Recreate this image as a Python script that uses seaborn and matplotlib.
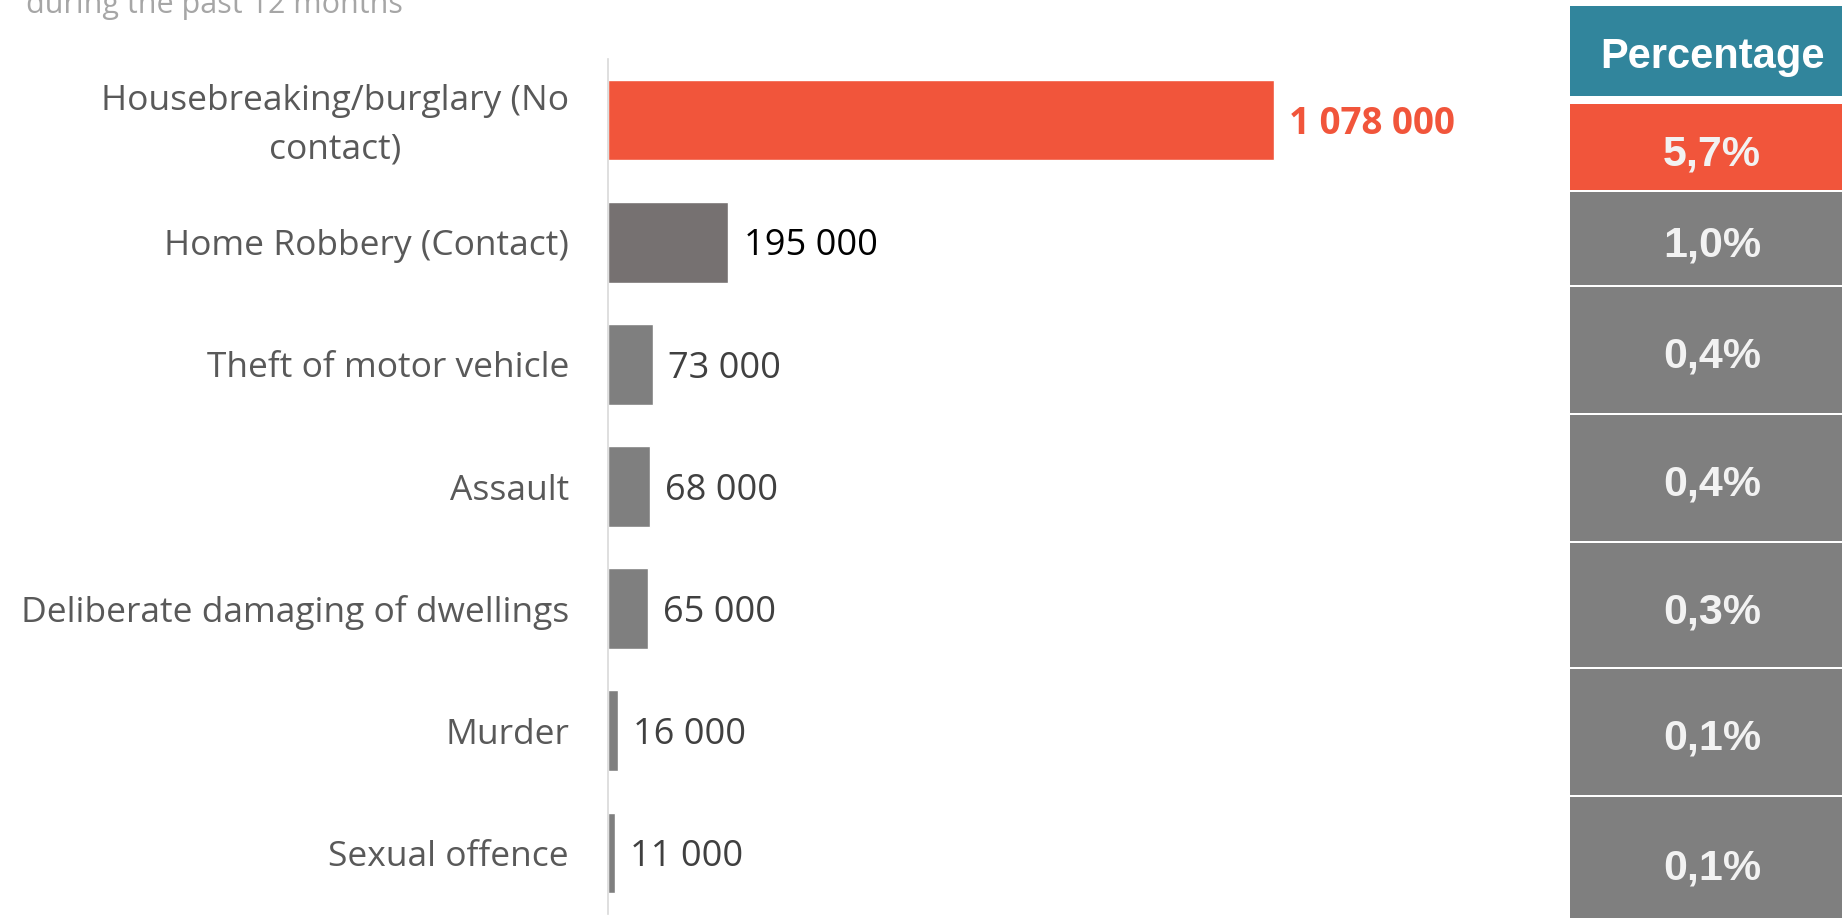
import matplotlib
matplotlib.use("Agg")
import matplotlib.pyplot as plt
import matplotlib.transforms as mtransforms
import seaborn as sns
import pandas as pd
from matplotlib.patches import Rectangle

# ---- data ----
categories = [
    "Housebreaking/burglary (No\ncontact)",
    "Home Robbery (Contact)",
    "Theft of motor vehicle",
    "Assault",
    "Deliberate damaging of dwellings",
    "Murder",
    "Sexual offence",
]
values = [1078000, 195000, 73000, 68000, 65000, 16000, 11000]
value_labels = ["1 078 000", "195 000", "73 000", "68 000", "65 000", "16 000", "11 000"]
percentages = ["5,7%", "1,0%", "0,4%", "0,4%", "0,3%", "0,1%", "0,1%"]
table_header = "Percentage"
subtitle = "during the past 12 months"

# ---- styles ----
bar_colors = ["#F1553B", "#767171", "#7F7F7F", "#7F7F7F", "#7F7F7F", "#7F7F7F", "#7F7F7F"]
label_colors = ["#F1553B", "#000000", "#404040", "#404040", "#404040", "#404040", "#404040"]
row_colors = ["#F1553B", "#7F7F7F", "#7F7F7F", "#7F7F7F", "#7F7F7F", "#7F7F7F", "#7F7F7F"]

sns.set_style("white")
plt.rcParams["font.family"] = ["Open Sans", "DejaVu Sans"]

W, H = 1842, 918
fig = plt.figure(figsize=(W / 100, H / 100), dpi=100)

# main bar axes (pixel layout)
ax_left, ax_right, ax_top, ax_bottom = 608, 1541, 59, 914
ax = fig.add_axes([ax_left / W, 1 - ax_bottom / H, (ax_right - ax_left) / W, (ax_bottom - ax_top) / H])

df = pd.DataFrame({"cat": categories, "val": values})
sns.barplot(data=df, x="val", y="cat", hue="cat", palette=bar_colors, legend=False,
            width=0.66, orient="h", ax=ax, saturation=1)

ax.set_xlim(0, 1510000)
ax.set_ylim(6.5, -0.5)
ax.set_xlabel("")
ax.set_ylabel("")
ax.set_xticks([])
for s in ["top", "right", "bottom"]:
    ax.spines[s].set_visible(False)
ax.spines["left"].set_color("#D9D9D9")
ax.spines["left"].set_linewidth(1.2)
ax.tick_params(axis="y", length=0, pad=28, labelsize=25.5, labelcolor="#595959")
for t in ax.get_yticklabels():
    t.set_multialignment("center")
    t.set_linespacing(1.55)
first = ax.get_yticklabels()[0]
first.set_transform(first.get_transform() + mtransforms.ScaledTranslation(0, 0.06, fig.dpi_scale_trans))

for i, (v, lab) in enumerate(zip(values, value_labels)):
    ax.annotate(lab, xy=(v, i), xytext=(11, -3), textcoords="offset points",
                va="center", ha="left", fontsize=26.5 if i == 0 else 26, color=label_colors[i],
                fontweight="bold" if i == 0 else "normal")

# subtitle (cut off at top)
fig.text(26 / W, 1 - 13 / H, subtitle, fontsize=22, color="#A6A6A6", ha="left", va="baseline")

# right-hand percentage table
tax = fig.add_axes([0, 0, 1, 1], zorder=-1)
tax.set_xlim(0, W)
tax.set_ylim(H, 0)
tax.axis("off")

tx0, tw, tcx = 1570, 300, 1712
tax.add_patch(Rectangle((tx0, 6), tw, 90, color="#31859C", lw=0))
tax.text(tcx, 57, table_header, ha="center", va="center", fontsize=30, fontweight="bold",
         color="white", family=["Liberation Sans", "DejaVu Sans"])

row_bounds = [(104, 190), (192, 285), (287, 413), (415, 541), (543, 667), (669, 795), (797, 925)]
for (y0, y1), pct, c in zip(row_bounds, percentages, row_colors):
    tax.add_patch(Rectangle((tx0, y0), tw, y1 - y0, color=c, lw=0))
    tax.text(tcx, (y0 + y1) / 2 + 7, pct, ha="center", va="center", fontsize=31, fontweight="bold",
             color="#F2F2F2", family=["Liberation Sans", "DejaVu Sans"])

fig.savefig("out.png", dpi=100)
